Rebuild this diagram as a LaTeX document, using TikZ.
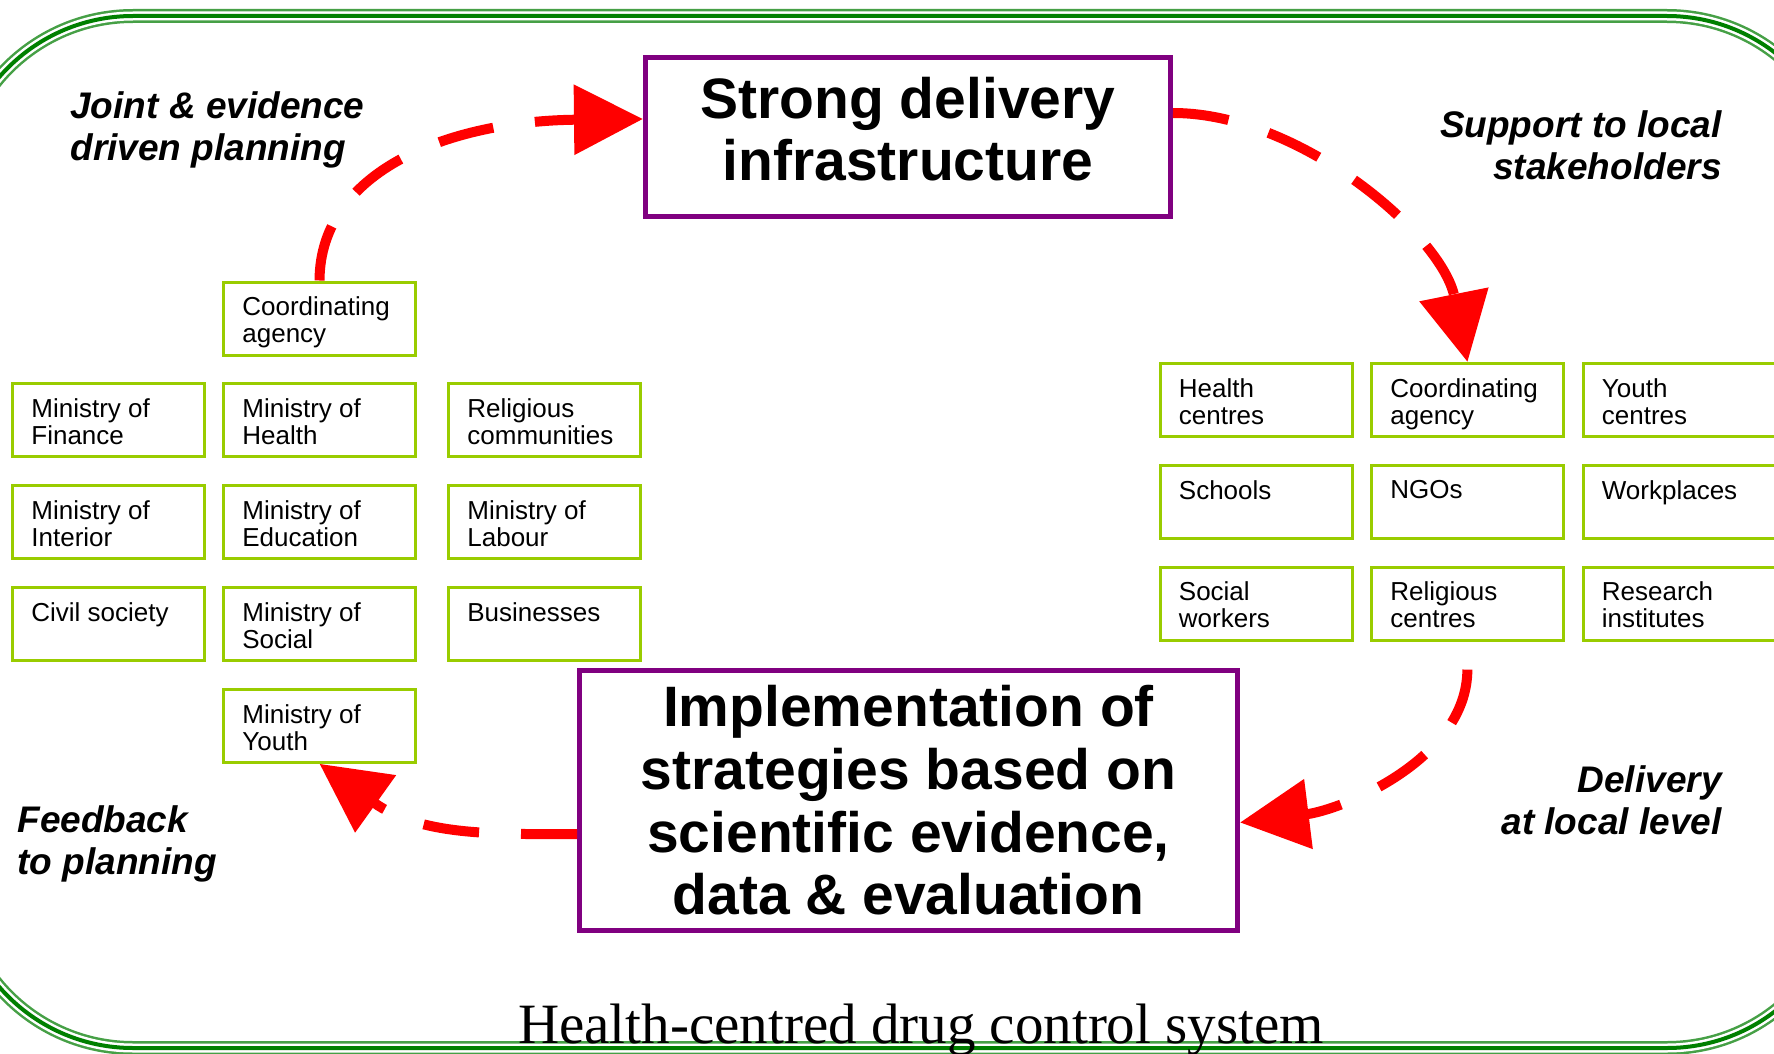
\documentclass[tikz,border=0pt]{standalone}
\usepackage{fontspec}
\setmainfont{Liberation Sans}
\newfontfamily\titlefont{Liberation Serif}
\usetikzlibrary{arrows.meta}
\definecolor{framegreen}{RGB}{0,128,0}
\definecolor{framelight}{RGB}{70,160,70}
\definecolor{boxgreen}{RGB}{153,204,0}
\definecolor{corepurple}{RGB}{128,0,128}
\definecolor{flowred}{RGB}{255,0,0}
\begin{document}
\begin{tikzpicture}[x=0.5pt,y=-0.5pt,
  actor/.style={draw=boxgreen, line width=1.5pt, minimum width=96pt, minimum height=36.5pt, inner sep=0pt},
  actortext/.style={anchor=north west, inner xsep=10pt, inner ysep=8pt, align=left,
    font=\fontsize{13pt}{13.5pt}\selectfont},
  core/.style={draw=corepurple, line width=2.5pt, align=center, inner sep=0pt,
    font=\fontsize{28.5pt}{31.3pt}\selectfont\bfseries},
  remark/.style={inner sep=0pt, font=\fontsize{18.5pt}{21pt}\selectfont\bfseries\itshape},
  flow/.style={draw=flowred, line width=5pt, dash pattern=on 28pt off 21pt,
    -{Triangle[length=34.5pt,width=34pt,fill=flowred]}},
  frame/.style={rounded corners=88.5pt},
]
\useasboundingbox (0,0) rectangle (1774,1054);
\fill[white] (0,0) rectangle (1774,1054);

% triple-line rounded frame
\draw[frame, framelight, line width=7pt] (-44,16) rectangle (1844,1048);
\draw[frame, white, line width=4.5pt] (-44,16) rectangle (1844,1048);
\draw[frame, framegreen, line width=2pt] (-44,16) rectangle (1844,1048);

% central boxes
\node[core, minimum width=262.5pt, minimum height=79.5pt, text depth=8pt] (infra) at (908,137)
  {Strong delivery\\infrastructure};
\node[core, minimum width=329pt, minimum height=130pt] (impl) at (908.5,800.5)
  {Implementation of\\strategies based on\\scientific evidence,\\data \& evaluation};

% national level actors
\node[actor, label={[actortext]north west:Coordinating\\agency}] (nca) at (319.5,318.5) {};
\node[actor, label={[actortext]north west:Ministry of\\Finance}] (mfin) at (108.5,420.3) {};
\node[actor, label={[actortext]north west:Ministry of\\Health}] (mhea) at (319.5,420.3) {};
\node[actor, label={[actortext]north west:Religious\\communities}] (rcom) at (544.5,420.3) {};
\node[actor, label={[actortext]north west:Ministry of\\Interior}] (mint) at (108.5,522.1) {};
\node[actor, label={[actortext]north west:Ministry of\\Education}] (medu) at (319.5,522.1) {};
\node[actor, label={[actortext]north west:Ministry of\\Labour}] (mlab) at (544.5,522.1) {};
\node[actor, label={[actortext]north west:Civil society}] (civ) at (108.5,624) {};
\node[actor, label={[actortext]north west:Ministry of\\Social}] (msoc) at (319.5,624) {};
\node[actor, label={[actortext]north west:Businesses}] (bus) at (544.5,624) {};
\node[actor, label={[actortext]north west:Ministry of\\Youth}] (myou) at (319.5,725.8) {};

% local level actors
\node[actor, label={[actortext]north west:Health\\centres}] (hcen) at (1256,400) {};
\node[actor, label={[actortext]north west:Coordinating\\agency}] (lca) at (1467.5,400) {};
\node[actor, label={[actortext]north west:Youth\\centres}] (ycen) at (1679,400) {};
\node[actor, label={[actortext]north west:Schools}] (sch) at (1256,501.8) {};
\node[actor, label={[actortext]north west:NGOs}] (ngo) at (1467.5,501.8) {};
\node[actor, label={[actortext]north west:Workplaces}] (work) at (1679,501.8) {};
\node[actor, label={[actortext]north west:Social\\workers}] (sw) at (1256,603.6) {};
\node[actor, label={[actortext]north west:Religious\\centres}] (rcen) at (1467.5,603.6) {};
\node[actor, label={[actortext]north west:Research\\institutes}] (rin) at (1679,603.6) {};

% cycle arrows
\draw[flow] (nca.north) .. controls (320,170) and (450,121) .. ([yshift=9pt]infra.west);
\draw[flow] ([yshift=12pt]infra.east) .. controls (1300,113) and (1442,235) .. (lca.north);
\draw[flow, shorten <=14pt] (rcen.south) .. controls (1467,760) and (1341,810) .. ([yshift=-11pt]impl.east);
\draw[flow] ([yshift=-16.75pt]impl.west) .. controls (500,834) and (422,837) .. (myou.south);

% stage remarks
\node[remark, anchor=north west, align=left] (plan) at (70,91) {Joint \& evidence\\driven planning};
\node[remark, anchor=north east, align=right] (support) at (1722,110) {Support to local\\stakeholders};
\node[remark, anchor=north west, align=left] (feedback) at (17,805) {Feedback\\to planning};
\node[remark, anchor=north east, align=right] (delivery) at (1722,765) {Delivery\\at local level};

% caption
\node[anchor=base, inner sep=0pt, font=\titlefont\fontsize{28.5pt}{30pt}\selectfont] (caption)
  at (921,1043) {Health-centred drug control system};
\end{tikzpicture}
\end{document}
